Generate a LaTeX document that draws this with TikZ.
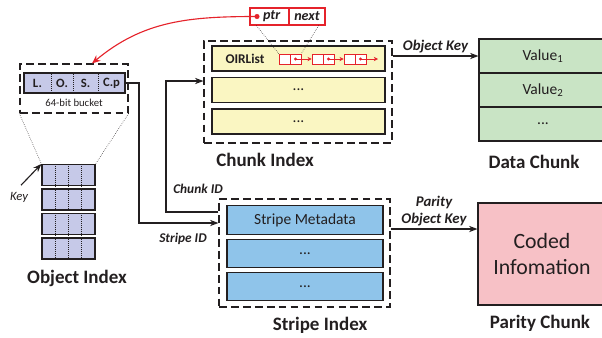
\documentclass[tikz,border=0pt]{standalone}
\usepackage{fontspec}
\setmainfont{Carlito}
\usetikzlibrary{arrows.meta,positioning,calc}
\definecolor{Lav}{HTML}{C6C9E8}
\definecolor{Cream}{HTML}{FAF6C2}
\definecolor{Mint}{HTML}{C9E4C5}
\definecolor{Rose}{HTML}{F7C1C6}
\definecolor{Sky}{HTML}{8FC4EA}
\definecolor{Ink}{HTML}{231F20}
\definecolor{Redd}{HTML}{E5232B}

\begin{document}
\begin{tikzpicture}[
  x=0.025cm, y=-0.025cm,
  frame/.style={draw=Ink, thick, dash pattern=on 5.5pt off 3pt, inner sep=0pt},
  cell/.style={draw=Ink, thick, inner sep=0pt, font=\fontsize{11}{13}\selectfont, text=Ink},
  title/.style={font=\bfseries\fontsize{13.5}{16}\selectfont, text=Ink, inner sep=1pt},
  lbl/.style={font=\bfseries\itshape\fontsize{10}{11.5}\selectfont, text=Ink, inner sep=1pt, align=center},
  lnode/.style={draw=Redd, thin, fill=white, minimum width=0.275cm, minimum height=0.25cm, inner sep=0pt},
  arr/.style={-{Stealth[length=6pt,width=4.5pt]}, thick, Ink},
  redarr/.style={-{Stealth[length=3pt,width=3pt]}, Redd, thin}
]
  \useasboundingbox (0,0) rectangle (602,337);

  % object index
  \node[frame, minimum width=2.7cm, minimum height=1.225cm] (obox) at (74,88.5) {};
  \node[cell, fill=Lav, minimum width=2.525cm, minimum height=0.5cm] (bucket) at (74.5,83) {};
  \foreach \x in {51,73,98}
    \draw[densely dotted, Ink] (bucket.north -| \x,0) -- (bucket.south -| \x,0);
  \foreach \x/\t in {37.5/L.,62/O.,85.5/S.,111.5/C.p}
    \node[font=\bfseries\fontsize{9}{10}\selectfont, text=Ink, inner sep=0pt] at (\x,83) {\t};
  \node[font=\fontsize{7.6}{9}\selectfont, text=Ink] (bits) at (74,103) {64-bit bucket};
  \foreach \i/\y in {1/175,2/199.5,3/224,4/248.5}{
    \node[cell, fill=Lav, minimum width=1.325cm, minimum height=0.525cm] (k\i) at (68.5,\y) {};
    \foreach \dx in {-13.25,0,13.25}
      \draw[densely dotted, Ink] ($(k\i.north)+(\dx,0)$) -- ($(k\i.south)+(\dx,0)$);
  }
  \draw[densely dotted, Ink] (obox.south west) -- (k1.north west);
  \draw[densely dotted, Ink] (obox.south east) -- (k1.north east);
  \node[font=\itshape\fontsize{9}{10}\selectfont, text=Ink, inner sep=1pt] (key) at (19,197) {Key};
  \draw[arr] ($(key.north)+(2,-5)$) -- (k1.north west);
  \node[title] (otitle) at (77,278) {Object Index};

  % chunk index
  \node[frame, minimum width=4.7cm, minimum height=2.55cm] (cbox) at (298,92) {};
  \node[cell, fill=Cream, minimum width=4.325cm, minimum height=0.625cm] (c1) at (298.5,58.5) {};
  \node[cell, fill=Cream, minimum width=4.325cm, minimum height=0.625cm] (c2) at (298.5,90) {...};
  \node[cell, fill=Cream, minimum width=4.325cm, minimum height=0.625cm] (c3) at (298.5,121.5) {...};
  \node[font=\bfseries\fontsize{9.5}{11}\selectfont, text=Ink] (oir) at (245,59) {OIRList};
  \foreach \i/\x in {1/284.5,2/317.5,3/349.5}{
    \node[lnode] (l\i a) at (\x,59) {};
    \node[lnode] (l\i b) at (\x+11,59) {};
  }
  \coordinate (lend) at (378,59);
  \draw[redarr] (l1b.center) -- (l2a.west);
  \draw[redarr] (l2b.center) -- (l3a.west);
  \draw[redarr] (l3b.center) -- (lend);
  \foreach \i in {1,2,3}
    \fill[Redd] (l\i b.center) circle (1.2pt);
  \node[title] (ctitle) at (265,160) {Chunk Index};

  % ptr / next record
  \node[draw=Redd, thick, fill=white, minimum width=0.975cm, minimum height=0.425cm, inner sep=0pt,
        font=\bfseries\itshape\fontsize{10}{11}\selectfont, text=Ink] (ptr) at (269.5,16.5) {\hspace{0.3em}ptr};
  \node[draw=Redd, thick, fill=white, minimum width=0.9cm, minimum height=0.425cm, inner sep=0pt,
        font=\bfseries\itshape\fontsize{10}{11}\selectfont, text=Ink] (nxt) at (307,16.5) {next};
  \coordinate (pdot) at (257,16.5);
  \fill[Redd] (pdot) circle (1.8pt);
  \draw[densely dotted, Ink] ($(ptr.south west)+(7,0)$) -- (l1a.north west);
  \draw[densely dotted, Ink] ($(nxt.south east)+(-7,0)$) -- (l1b.north east);
  \draw[-{Stealth[length=6pt,width=5pt]}, Redd, thick] (pdot) to[out=180,in=40] ($(obox.north)+(18,0)$);

  % stripe index
  \node[frame, minimum width=4.275cm, minimum height=2.7cm] (sbox) at (304.5,253) {};
  \node[cell, fill=Sky, minimum width=3.9cm, minimum height=0.72cm] (s1) at (305,220) {Stripe Metadata};
  \node[cell, fill=Sky, minimum width=3.9cm, minimum height=0.72cm] (s2) at (305,253.5) {...};
  \node[cell, fill=Sky, minimum width=3.9cm, minimum height=0.72cm] (s3) at (305,286.5) {...};
  \node[title] (stitle) at (320,325) {Stripe Index};

  % data and parity chunks
  \node[cell, fill=Mint, minimum width=3.2cm, minimum height=0.85cm] (d1) at (543,56) {Value\textsubscript{1}};
  \node[cell, fill=Mint, minimum width=3.2cm, minimum height=0.85cm] (d2) at (543,90) {Value\textsubscript{2}};
  \node[cell, fill=Mint, minimum width=3.2cm, minimum height=0.85cm] (d3) at (543,124) {...};
  \node[title] (dtitle) at (534,162) {Data Chunk};
  \node[cell, fill=Rose, minimum width=3.2cm, minimum height=2.55cm, align=center,
        font=\fontsize{15.5}{19}\selectfont] (pchunk) at (542,254) {Coded\\Infomation};
  \node[title] (ptitle) at (540,323) {Parity Chunk};

  % connectors
  \draw[arr] (bucket.east) -| (139,223) -- (sbox.west |- 0,223);
  \draw[arr] (sbox.west |- 0,212) -| (166,81) -- (cbox.west |- 0,81);
  \draw[arr] (cbox.east |- d1) -- node[lbl, above=1pt, font=\bfseries\itshape\fontsize{10.5}{12}\selectfont] {Object Key} (d1.west);
  \draw[arr] (sbox.east |- 0,229) -- node[lbl, above=1pt, font=\bfseries\itshape\fontsize{10.5}{12}\selectfont] {Parity\\Object Key} (pchunk.west |- 0,229);
  \node[lbl, font=\bfseries\itshape\fontsize{9.5}{11}\selectfont] (cid) at (198,189) {Chunk ID};
  \node[lbl, font=\bfseries\itshape\fontsize{9.5}{11}\selectfont] (sid) at (183,239) {Stripe ID};
\end{tikzpicture}
\end{document}
